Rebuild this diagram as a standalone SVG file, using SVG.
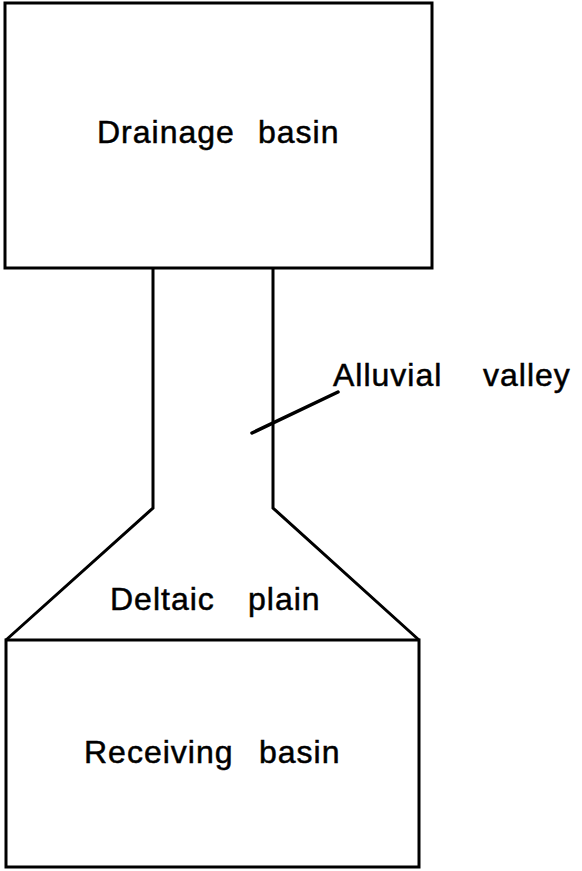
<svg xmlns="http://www.w3.org/2000/svg" width="582" height="871" viewBox="0 0 582 871">
<style>
.ln{fill:none;stroke:#000;stroke-width:3;stroke-linejoin:miter}
.lb{font-family:"Liberation Sans",Arial,sans-serif;font-size:32px;letter-spacing:1px;fill:#000;stroke:#000;stroke-width:0.5}
</style>
<rect width="582" height="871" fill="#fff"/>
<g id="drainage-basin">
<rect class="ln" x="5" y="3" width="427" height="265"/>
<text class="lb"><tspan x="97" y="143">Drainage</tspan><tspan x="258" y="143">basin</tspan></text>
</g>
<g id="alluvial-valley">
<path class="ln" d="M153,268 V508 L6,640"/>
<path class="ln" d="M273,268 V508 L419,640"/>
<text class="lb"><tspan x="333" y="386">Alluvial</tspan><tspan x="483" y="386">valley</tspan></text>
</g>
<g id="deltaic-plain">
<text class="lb"><tspan x="110" y="610">Deltaic</tspan><tspan x="248" y="610">plain</tspan></text>
</g>
<g id="receiving-basin">
<rect class="ln" x="6" y="640" width="413" height="227"/>
<text class="lb"><tspan x="84" y="763">Receiving</tspan><tspan x="259" y="763">basin</tspan></text>
</g>
<g id="connectors">
<line x1="252" y1="433" x2="338" y2="392" stroke="#000" stroke-width="3.5" stroke-linecap="round"/>
</g>
</svg>
